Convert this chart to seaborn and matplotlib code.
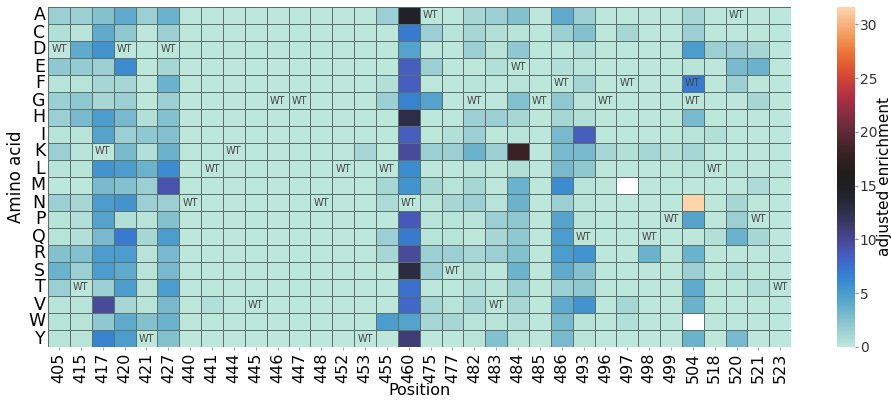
import numpy as np
import pandas as pd
import matplotlib
matplotlib.use("Agg")
import matplotlib.pyplot as plt
import seaborn as sns

amino_acids = ["A", "C", "D", "E", "F", "G", "H", "I", "K", "L",
               "M", "N", "P", "Q", "R", "S", "T", "V", "W", "Y"]
positions = [405, 415, 417, 420, 421, 427, 440, 441, 444, 445, 446, 447, 448,
             452, 453, 455, 460, 475, 477, 482, 483, 484, 485, 486, 493, 496,
             497, 498, 499, 504, 518, 520, 521, 523]

nan = float("nan")
#          405  415  417  420  421  427  440  441  444  445  446  447  448  452  453  455  460   475  477  482  483  484   485  486  493  496  497  498  499  504   518  520  521  523
row_A = [1.5, 1.5, 2.5, 4.0, 1.5, 3.5, 0.0, 0.0, 0.0, 0.0, 0.0, 0.0, 0.0, 0.0, 0.0, 1.5, 14.5, 0.0, 0.0, 1.0, 1.5, 2.5, 0.0, 4.0, 1.5, 0.0, 0.0, 0.0, 0.0, 1.0, 0.0, 0.0, 0.0, 0.0]
row_C = [0.5, 0.3, 4.0, 2.0, 0.0, 1.5, 0.0, 0.0, 0.0, 0.0, 0.0, 0.0, 0.0, 0.0, 0.0, 0.0, 7.0, 1.5, 0.3, 1.0, 0.5, 0.3, 0.0, 1.5, 2.5, 0.0, 1.0, 0.0, 0.0, 1.5, 0.0, 0.0, 0.0, 0.0]
row_D = [0.0, 4.0, 5.5, 0.0, 0.0, 0.0, 0.0, 0.0, 0.0, 0.0, 0.0, 0.0, 0.0, 0.0, 0.0, 0.0, 4.5, 0.0, 0.0, 1.5, 0.3, 2.0, 0.0, 0.0, 0.5, 0.0, 0.0, 0.0, 0.0, 5.0, 1.5, 1.5, 1.0, 0.0]
row_E = [2.0, 1.8, 1.5, 6.0, 0.0, 1.0, 0.0, 0.0, 0.0, 0.0, 0.0, 0.0, 0.0, 0.0, 0.0, 0.0, 8.5, 1.5, 0.0, 0.0, 0.5, 0.0, 0.0, 0.5, 0.3, 0.0, 0.0, 0.0, 0.0, 0.3, 0.0, 3.0, 3.5, 0.0]
row_F = [0.3, 0.3, 1.0, 1.0, 0.0, 3.5, 0.0, 0.0, 0.0, 0.0, 0.0, 0.0, 0.0, 0.0, 0.0, 0.5, 8.5, 0.0, 0.0, 0.3, 0.0, 0.3, 0.0, 0.0, 1.2, 0.0, 0.0, 0.0, 0.0, 7.0, 0.0, 1.5, 0.0, 0.0]
row_G = [1.5, 2.0, 1.0, 1.5, 0.0, 1.5, 0.0, 0.0, 0.0, 0.0, 0.0, 0.0, 0.0, 0.0, 0.0, 1.5, 6.5, 4.5, 0.0, 0.0, 0.0, 2.5, 0.0, 2.0, 0.3, 0.0, 0.0, 0.0, 0.0, 0.0, 0.0, 0.0, 1.0, 0.0]
row_H = [1.5, 3.0, 5.0, 3.0, 0.5, 2.5, 0.0, 0.0, 0.0, 0.0, 0.0, 0.0, 0.0, 0.0, 0.0, 0.0, 12.8, 0.0, 0.0, 1.5, 1.5, 1.0, 0.0, 1.0, 0.5, 0.0, 0.0, 0.0, 0.0, 3.0, 0.0, 0.0, 0.0, 0.0]
row_I = [0.3, 0.3, 4.5, 1.5, 2.0, 2.5, 0.0, 0.0, 0.0, 0.0, 0.0, 0.0, 0.0, 0.0, 0.0, 0.0, 8.5, 0.0, 0.5, 1.5, 0.0, 0.3, 0.0, 3.0, 8.5, 0.0, 0.0, 0.0, 0.0, 0.3, 0.5, 0.0, 0.0, 0.0]
row_K = [1.5, 0.3, 0.0, 3.0, 0.5, 3.5, 0.0, 0.0, 0.0, 0.0, 0.0, 0.0, 0.0, 0.0, 1.0, 0.0, 9.8, 1.5, 1.5, 3.5, 1.5, 18.0, 0.0, 3.0, 3.0, 1.0, 0.5, 1.0, 0.5, 1.0, 0.0, 0.0, 0.0, 0.0]
row_L = [0.3, 0.3, 5.5, 5.0, 3.5, 6.0, 0.0, 0.0, 0.0, 0.0, 0.0, 0.0, 0.0, 0.0, 0.0, 0.0, 6.0, 0.0, 0.0, 0.3, 0.0, 0.5, 0.0, 3.0, 2.0, 0.0, 0.0, 0.0, 0.0, 0.3, 0.0, 0.3, 0.0, 0.0]
row_M = [0.0, 0.0, 3.0, 2.5, 1.5, 9.2, 0.0, 0.0, 0.0, 0.0, 0.0, 0.0, 0.0, 0.0, 0.0, 1.0, 5.5, 1.0, 0.3, 1.0, 0.0, 3.5, 0.0, 6.0, 0.3, 0.0, nan, 0.0, 0.0, 0.0, 0.0, 0.0, 0.8, 0.0]
row_N = [1.5, 1.0, 5.0, 5.5, 1.5, 1.5, 0.0, 0.0, 0.0, 0.0, 0.0, 0.0, 0.0, 0.0, 0.0, 0.8, 0.0, 0.3, 1.0, 1.5, 0.3, 3.5, 0.0, 1.5, 0.3, 0.0, 0.0, 0.0, 0.0, 31.6, 0.0, 1.0, 0.0, 0.0]
row_P = [0.3, 0.5, 4.5, 0.5, 0.3, 2.5, 0.0, 0.0, 0.0, 0.0, 0.0, 0.0, 0.0, 0.0, 0.0, 0.0, 8.8, 0.3, 0.3, 0.3, 1.5, 2.0, 0.0, 4.5, 0.3, 0.0, 0.0, 0.0, 0.0, 4.5, 0.0, 1.5, 0.0, 0.0]
row_Q = [0.3, 0.5, 3.0, 7.0, 1.0, 5.0, 0.0, 0.0, 0.0, 0.0, 0.0, 0.0, 0.0, 0.0, 0.0, 1.5, 7.0, 0.3, 0.3, 0.0, 1.0, 2.0, 0.0, 5.0, 0.0, 0.0, 0.0, 0.0, 0.0, 0.0, 0.5, 3.5, 1.0, 0.0]
row_R = [2.5, 2.5, 5.0, 5.0, 0.3, 3.0, 0.0, 0.0, 0.0, 0.0, 0.0, 0.0, 0.0, 0.0, 0.0, 1.0, 9.8, 1.5, 1.5, 1.0, 1.5, 2.5, 0.0, 5.0, 5.5, 0.0, 0.0, 3.5, 0.0, 3.5, 0.0, 0.0, 0.0, 0.0]
row_S = [3.5, 1.5, 5.0, 4.0, 0.3, 3.0, 0.0, 0.0, 0.0, 0.0, 0.0, 0.0, 0.0, 0.0, 0.0, 0.0, 13.0, 1.5, 0.0, 0.5, 0.0, 3.5, 0.0, 4.0, 2.5, 0.0, 0.0, 0.0, 0.0, 1.5, 0.0, 0.5, 0.0, 0.0]
row_T = [1.5, 0.0, 1.5, 5.0, 0.3, 5.0, 0.0, 0.0, 0.0, 0.0, 0.0, 0.0, 0.0, 0.0, 0.0, 0.0, 7.5, 0.0, 0.0, 0.5, 0.3, 1.5, 0.0, 1.5, 2.0, 0.0, 0.0, 0.0, 0.0, 4.0, 0.0, 0.0, 0.5, 0.0]
row_V = [0.3, 0.3, 9.8, 1.0, 0.3, 3.0, 0.0, 0.5, 0.0, 0.0, 0.0, 0.0, 0.0, 0.0, 0.0, 0.0, 8.0, 1.0, 0.3, 1.0, 0.0, 1.0, 0.0, 4.0, 5.5, 0.0, 1.0, 0.0, 0.0, 3.5, 0.0, 0.0, 0.0, 0.0]
row_W = [0.3, 0.3, 2.0, 4.0, 2.5, 3.5, 0.0, 0.0, 0.0, 0.0, 0.0, 0.0, 0.0, 0.0, 0.0, 5.0, 4.5, 1.0, 1.0, 0.3, 0.3, 0.5, 0.0, 3.0, 0.3, 0.0, 0.5, 0.0, 0.0, nan, 0.0, 0.0, 0.0, 0.0]
row_Y = [0.3, 0.3, 6.5, 5.0, 0.0, 2.5, 0.0, 0.0, 0.0, 0.0, 0.0, 0.0, 0.0, 0.0, 0.0, 0.0, 11.0, 0.0, 0.0, 0.3, 2.5, 0.3, 0.0, 3.0, 0.3, 0.0, 0.0, 0.0, 0.0, 3.5, 0.0, 3.0, 0.0, 0.0]

wild_type = {
    "A": [475, 520], "D": [405, 420, 427], "E": [484], "F": [486, 497, 504],
    "G": [446, 447, 482, 485, 496, 504], "K": [417, 444],
    "L": [441, 452, 455, 518], "N": [440, 448, 460], "P": [499, 521],
    "Q": [493, 498], "S": [477], "T": [415, 523], "V": [445, 483],
    "Y": [421, 453],
}

rows = [row_A, row_C, row_D, row_E, row_F, row_G, row_H, row_I, row_K, row_L,
        row_M, row_N, row_P, row_Q, row_R, row_S, row_T, row_V, row_W, row_Y]
df = pd.DataFrame(rows, index=amino_acids, columns=positions)
annot = pd.DataFrame("", index=amino_acids, columns=positions)
for aa, plist in wild_type.items():
    for p in plist:
        annot.loc[aa, p] = "WT"

fig = plt.figure(figsize=(8.91, 4.0), dpi=100)
ax = fig.add_axes([0.054, 0.1325, 0.834, 0.85])
cax = fig.add_axes([0.9395, 0.1325, 0.020, 0.85])

sns.heatmap(df, ax=ax, cbar_ax=cax, cmap="icefire", vmin=0,
            annot=annot.values, fmt="", annot_kws={"size": 7, "color": "#444444"},
            linewidths=0.5, linecolor="#5a716d")

ax.set_xlabel("Position", fontsize=11.5, labelpad=0)
ax.set_ylabel("Amino acid", fontsize=12, labelpad=2)
ax.set_xticklabels(positions, rotation=90, fontsize=11.5)
ax.set_yticklabels(amino_acids, rotation=0, fontsize=12.5)
ax.tick_params(axis="y", length=0, pad=2)
ax.tick_params(axis="x", length=2.5, pad=1.5, color="#aaaaaa")
cax.tick_params(labelsize=10, length=2.5, pad=1, labelcolor="#333333", color="#888888")
cax.set_ylabel("adjusted enrichment", fontsize=11, labelpad=0)

fig.savefig("out.png", dpi=100)
